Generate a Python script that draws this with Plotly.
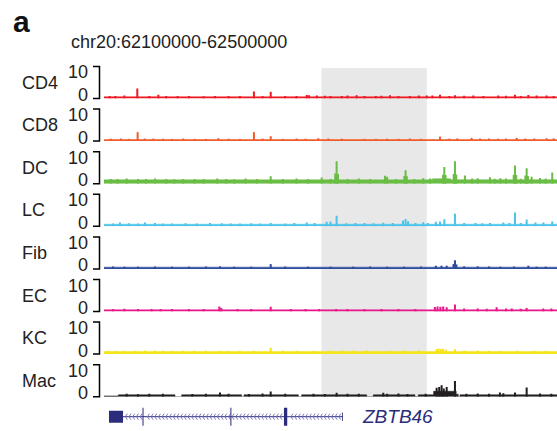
import numpy as np
import plotly.graph_objects as go

# ---------------- data (positions in kb from chr20:62,100,000) ----------------
region_label = "chr20:62100000-62500000"
region_kb = [0, 400]
highlight_kb = [192, 285]

track_names = ["CD4", "CD8", "DC", "LC", "Fib", "EC", "KC", "Mac"]
scale_labels = ["10", "0"]
scale_max = 10

cd4_base_edges = [0, 400]
cd4_base_levels = [0.55]
cd4_peak_pos = [29.4, 48.0, 132.4, 147.2, 179.0, 181.0, 223.1, 252.5, 296.7, 309.9, 326.1, 348.1,
                362.9, 374.7, 390.8, 10, 65, 88, 110, 160, 200, 240, 270, 285,
                5, 18, 40, 55, 75, 98, 120, 140, 170, 188, 195, 210, 215, 230, 245, 260, 278,
                290, 305, 318, 335, 355, 368, 382, 397]
cd4_peak_h = [3.1, 1.2, 2.2, 2.1, 1.1, 1.0, 1.0, 1.0, 1.2, 1.0, 0.9, 0.9,
              1.2, 1.1, 0.9, 0.8, 0.8, 0.7, 0.8, 0.8, 0.8, 0.8, 0.8, 0.9,
              0.8, 0.9, 0.8, 0.75, 0.8, 0.75, 0.8, 0.75, 0.8, 0.9, 0.85, 0.8, 0.9, 0.8, 0.85, 0.8, 0.9,
              0.9, 0.8, 0.85, 0.8, 0.85, 0.8, 0.9, 0.8]

cd8_base_edges = [0, 400]
cd8_base_levels = [0.5]
cd8_peak_pos = [29.7, 43.6, 101.0, 132.4, 147.2, 189.2, 296.7, 324.6, 364.4, 390.8,
                60, 80, 120, 170, 230, 260, 280, 340, 355, 380,
                6, 15, 22, 36, 52, 70, 90, 110, 140, 158, 178, 198, 210, 240, 250, 270, 305, 312,
                332, 348, 372, 397]
cd8_peak_h = [2.8, 0.8, 0.9, 2.8, 1.5, 0.9, 1.4, 1.0, 1.0, 0.9,
              0.7, 0.7, 0.7, 0.8, 0.7, 0.7, 0.7, 0.8, 0.8, 0.8,
              0.75, 0.8, 0.7, 0.8, 0.75, 0.8, 0.7, 0.75, 0.8, 0.7, 0.75, 0.8, 0.75, 0.7, 0.75, 0.8, 0.8, 0.85,
              0.8, 0.75, 0.8, 0.85]

dc_base_edges = [0, 290, 306, 400]
dc_base_levels = [1.2, 1.55, 1.25]
dc_peak_pos = [147.2, 204.2, 205.4, 206.6, 248.1, 250.0, 265.2, 266.3, 267.4, 299.4, 300.5, 301.6,
               308.8, 309.9, 311.0, 318.7, 340.8, 361.8, 362.9, 364.0, 372.1, 373.2, 374.3, 377.6,
               395.8, 192.2, 281.9, 20, 45, 70, 100, 125, 170, 225, 235, 330, 350, 385,
               6, 12, 30, 37, 55, 62, 80, 88, 108, 115, 135, 158, 180, 200, 215, 258, 274, 288,
               325, 345, 355, 368, 390]
dc_peak_h = [2.3, 3.2, 7.0, 3.0, 2.5, 2.2, 2.4, 4.2, 2.3, 2.8, 5.2, 2.7,
             3.0, 7.0, 2.9, 2.6, 2.0, 2.8, 5.7, 2.7, 2.6, 4.8, 2.4, 2.2,
             3.5, 1.9, 1.7, 1.6, 1.6, 1.5, 1.6, 1.6, 1.6, 1.6, 1.5, 1.7, 1.7, 1.8,
             1.45, 1.5, 1.5, 1.45, 1.5, 1.4, 1.5, 1.45, 1.5, 1.4, 1.5, 1.45, 1.5, 1.5, 1.45, 1.5, 1.5, 1.6,
             1.6, 1.55, 1.6, 1.55, 1.6]

lc_base_edges = [0, 400]
lc_base_levels = [0.65]
lc_peak_pos = [14.1, 36.2, 93.6, 147.2, 179.0, 196.6, 200.0, 205.4, 246.6, 264.0, 266.3, 268.5,
               281.9, 293.0, 296.7, 300.5, 309.9, 340.8, 352.6, 362.9, 373.2, 381.0, 388.0, 395.8,
               60, 120, 160, 230,
               8, 22, 30, 45, 52, 72, 82, 104, 112, 130, 138, 168, 186, 214, 222, 238, 255, 275,
               286, 318, 328, 334, 358, 368]
lc_peak_h = [1.2, 1.2, 1.0, 1.0, 1.2, 1.4, 1.5, 3.3, 1.1, 1.8, 2.3, 1.6,
             1.3, 1.4, 1.5, 2.2, 3.9, 1.0, 1.2, 4.3, 2.1, 1.2, 1.2, 1.5,
             0.9, 0.9, 0.9, 1.0,
             0.9, 0.95, 0.9, 1.0, 0.9, 0.95, 0.9, 0.95, 0.9, 0.95, 0.9, 1.0, 1.0, 0.95, 1.0, 0.95, 1.0, 1.0,
             1.0, 1.0, 1.0, 0.95, 1.0, 1.0]

fib_base_edges = [0, 400]
fib_base_levels = [0.55]
fib_peak_pos = [102.4, 147.2, 293.0, 298.0, 302.6, 308.6, 309.9, 311.2, 374.7,
                30, 60, 130, 180, 220, 250, 330, 350, 390,
                8, 18, 45, 75, 90, 115, 160, 200, 235, 265, 280, 318, 340, 362, 382]
fib_peak_h = [0.8, 1.5, 1.0, 1.0, 1.0, 1.5, 2.7, 1.4, 1.0,
              0.7, 0.7, 0.7, 0.7, 0.7, 0.7, 0.8, 0.7, 0.7,
              0.75, 0.7, 0.75, 0.7, 0.75, 0.7, 0.75, 0.7, 0.75, 0.7, 0.75, 0.8, 0.75, 0.75, 0.7]

ec_base_edges = [0, 400]
ec_base_levels = [0.55]
ec_peak_pos = [101.8, 103.5, 147.2, 292.2, 294.5, 297.0, 299.5, 302.6, 309.9, 346.7, 373.2, 387.9,
               30, 60, 190, 230, 260, 330, 360,
               8, 18, 42, 50, 75, 88, 118, 130, 165, 178, 205, 215, 245, 275, 318, 338, 355, 368, 395]
ec_peak_h = [1.6, 1.1, 1.5, 1.4, 1.6, 1.5, 1.6, 1.3, 2.2, 1.3, 1.1, 0.9,
             0.8, 0.8, 0.8, 0.8, 0.8, 0.9, 0.9,
             0.8, 0.85, 0.8, 0.75, 0.8, 0.8, 0.75, 0.8, 0.8, 0.75, 0.8, 0.8, 0.8, 0.8, 0.9, 0.85, 0.9, 0.85, 0.9]

kc_base_edges = [0, 400]
kc_base_levels = [0.85]
kc_peak_pos = [36.2, 102.4, 147.2, 293.7, 295.5, 297.5, 299.5, 302.0, 309.9,
               10, 60, 80, 120, 170, 200, 240, 265, 330, 350, 380,
               4, 18, 28, 45, 52, 70, 90, 110, 132, 158, 185, 210, 220, 232, 252, 278, 318, 340, 365, 390]
kc_peak_h = [1.1, 1.0, 2.0, 1.6, 1.7, 1.6, 1.7, 1.4, 1.5,
             1.0, 1.0, 1.0, 1.0, 1.0, 1.1, 1.0, 1.1, 1.1, 1.0, 1.0,
             1.0, 1.05, 1.0, 1.05, 1.0, 1.0, 1.05, 1.0, 1.0, 1.05, 1.0, 1.1, 1.05, 1.1, 1.05, 1.1, 1.05, 1.0, 1.05, 1.0]

mac_base_edges = [0, 12.7, 62.7, 68.6, 121.5, 123.6, 171.6, 174.5, 231.9, 237.8, 274.6, 277.5,
                  291.0, 311.0, 312.8, 314.3, 400]
mac_base_levels = [0.25, 0.6, 0, 0.6, 0, 0.6, 0, 0.6, 0, 0.6, 0, 0.6,
                   1.7, 0.8, 0, 0.6]
mac_peak_pos = [293.7, 296.0, 298.1, 300.0, 302.6, 309.9, 373.2, 147.2, 102.4, 205.4, 246.6,
                349.6, 362.9, 352.6, 40, 90, 140, 185, 215, 260, 330, 385,
                20, 30, 52, 78, 110, 128, 160, 195, 225, 250, 268, 284, 320, 340, 395]
mac_peak_h = [2.8, 3.0, 3.6, 2.6, 3.0, 4.9, 2.9, 1.6, 1.3, 1.2, 1.2,
              1.3, 1.3, 1.1, 0.9, 0.9, 1.0, 0.9, 0.9, 1.0, 1.0, 1.0,
              0.9, 0.8, 0.9, 0.85, 0.9, 0.85, 0.9, 0.85, 0.9, 0.9, 0.85, 0.9, 0.9, 0.95, 0.9]

# gene model (ZBTB46, minus strand)
gene_name = "ZBTB46"
gene_span = [4.4, 211.0]
gene_utr = [[4.4, 16.8]]
gene_end_exon = [[210.3, 211.0]]
gene_cds = [[34.0, 34.9], [111.6, 112.5], [158.9, 161.8]]

# ---------------- styling ----------------
W, H = 557, 431
FONT = "Liberation Sans, Arial, sans-serif"
colors = ["#ec1c24", "#f15a2b", "#6abd45", "#4ec3e9", "#2e4b9c", "#e8198b", "#f3e41c", "#231f20"]
NAVY = "#2b2c7c"
PEAK_W = 1.8

X0_PX = 104
base_px = [98.5 + 42.6 * i for i in range(8)]
TRACK_H = 32


def py(p):
    return 1 - p / H


def pxx(p):
    return p / W


tracks = [
    (cd4_base_edges, cd4_base_levels, cd4_peak_pos, cd4_peak_h),
    (cd8_base_edges, cd8_base_levels, cd8_peak_pos, cd8_peak_h),
    (dc_base_edges, dc_base_levels, dc_peak_pos, dc_peak_h),
    (lc_base_edges, lc_base_levels, lc_peak_pos, lc_peak_h),
    (fib_base_edges, fib_base_levels, fib_peak_pos, fib_peak_h),
    (ec_base_edges, ec_base_levels, ec_peak_pos, ec_peak_h),
    (kc_base_edges, kc_base_levels, kc_peak_pos, kc_peak_h),
    (mac_base_edges, mac_base_levels, mac_peak_pos, mac_peak_h),
]

fig = go.Figure()
layout_axes = {}
shapes = []
annotations = []

for i, (be, bl, pp, ph) in enumerate(tracks):
    yref = "y" if i == 0 else f"y{i+1}"
    yax = "yaxis" if i == 0 else f"yaxis{i+1}"
    col = colors[i]
    fig.add_trace(go.Scatter(x=be, y=list(bl) + [bl[-1]], mode="lines",
                             line=dict(shape="hv", width=0.5, color=col),
                             fill="tozeroy", fillcolor=col, xaxis="x", yaxis=yref,
                             hoverinfo="skip", showlegend=False))
    fig.add_trace(go.Bar(x=pp, y=ph, width=PEAK_W, marker=dict(color=col, line=dict(width=0)),
                         xaxis="x", yaxis=yref, showlegend=False, hoverinfo="skip"))
    b = base_px[i]
    layout_axes[yax] = dict(domain=[py(b), py(b - TRACK_H)], range=[0, scale_max],
                            visible=False, fixedrange=True, anchor="x")
    # bracket
    shapes.append(dict(type="path", xref="paper", yref="paper",
                       path=f"M {pxx(93)},{py(b-TRACK_H)} L {pxx(99.5)},{py(b-TRACK_H)} "
                            f"L {pxx(99.5)},{py(b)} L {pxx(93)},{py(b)}",
                       line=dict(color="black", width=1.5)))
    annotations.append(dict(x=pxx(20), y=py(b - 16), xref="paper", yref="paper", text=track_names[i],
                            showarrow=False, xanchor="left", yanchor="middle",
                            font=dict(family=FONT, size=18, color="#222")))
    annotations.append(dict(x=pxx(89.5), y=py(b - 26), xref="paper", yref="paper", text=scale_labels[0],
                            showarrow=False, xanchor="right", yanchor="middle",
                            font=dict(family=FONT, size=18, color="#222")))
    annotations.append(dict(x=pxx(89.5), y=py(b - 3.5), xref="paper", yref="paper", text=scale_labels[1],
                            showarrow=False, xanchor="right", yanchor="middle",
                            font=dict(family=FONT, size=18, color="#222")))

# gene track
GENE_C = 416.7
fig.add_trace(go.Scatter(x=gene_span, y=[0, 0], mode="lines", line=dict(color=NAVY, width=1),
                         xaxis="x", yaxis="y9", hoverinfo="skip", showlegend=False))
chev_x, chev_y = [], []
blocks = gene_utr + gene_cds + gene_end_exon
for c in np.arange(gene_span[0] + 14.5, gene_span[1] - 1.5, 3.25):
    if any(s - 1.0 <= c <= e + 0.5 for s, e in blocks):
        continue
    chev_x += [c + 1.7, c, c + 1.7, None]
    chev_y += [0.3, 0, -0.3, None]
fig.add_trace(go.Scatter(x=chev_x, y=chev_y, mode="lines", line=dict(color="#6b6bb3", width=0.9),
                         xaxis="x", yaxis="y9", hoverinfo="skip", showlegend=False))
for s, e in gene_utr:
    shapes.append(dict(type="rect", xref="x", yref="y9", x0=s, x1=e, y0=-0.6, y1=0.6,
                       fillcolor=NAVY, line=dict(width=0)))
for s, e in gene_end_exon:
    shapes.append(dict(type="rect", xref="x", yref="y9", x0=s, x1=e, y0=-0.43, y1=0.43,
                       fillcolor=NAVY, line=dict(width=0)))
for s, e in gene_cds:
    shapes.append(dict(type="rect", xref="x", yref="y9", x0=s, x1=e, y0=-0.9, y1=0.9,
                       fillcolor=NAVY, line=dict(width=0)))
layout_axes["yaxis9"] = dict(domain=[py(GENE_C + 10), py(GENE_C - 10)], range=[-1, 1],
                             visible=False, fixedrange=True, anchor="x")
annotations.append(dict(x=pxx(360), y=py(GENE_C), xref="paper", yref="paper",
                        text=f"<i>{gene_name}</i>", showarrow=False, xanchor="left", yanchor="middle",
                        font=dict(family=FONT, size=19, color=NAVY)))

# highlight
shapes.append(dict(type="rect", xref="x", yref="paper", x0=highlight_kb[0], x1=highlight_kb[1],
                   y0=py(397), y1=py(68), fillcolor="#e8e8e8", line=dict(width=0), layer="below"))

# panel letter + region title
annotations.append(dict(x=pxx(10.5), y=py(22), xref="paper", yref="paper", text="<b>a</b>",
                        showarrow=False, xanchor="left", yanchor="middle",
                        font=dict(family=FONT, size=30, color="#111")))
annotations.append(dict(x=pxx(68.5), y=py(42), xref="paper", yref="paper", text=region_label,
                        showarrow=False, xanchor="left", yanchor="middle",
                        font=dict(family=FONT, size=18, color="#222")))

fig.update_layout(
    width=W, height=H, margin=dict(l=0, r=0, t=0, b=0),
    paper_bgcolor="white", plot_bgcolor="rgba(0,0,0,0)",
    barmode="overlay", showlegend=False,
    xaxis=dict(domain=[pxx(X0_PX), 1], range=region_kb, visible=False, fixedrange=True),
    shapes=shapes, annotations=annotations,
    **layout_axes,
)

fig.write_html("out.html", config={"displayModeBar": False},
               post_script="document.body.style.margin='0';document.body.style.overflow='hidden';")
